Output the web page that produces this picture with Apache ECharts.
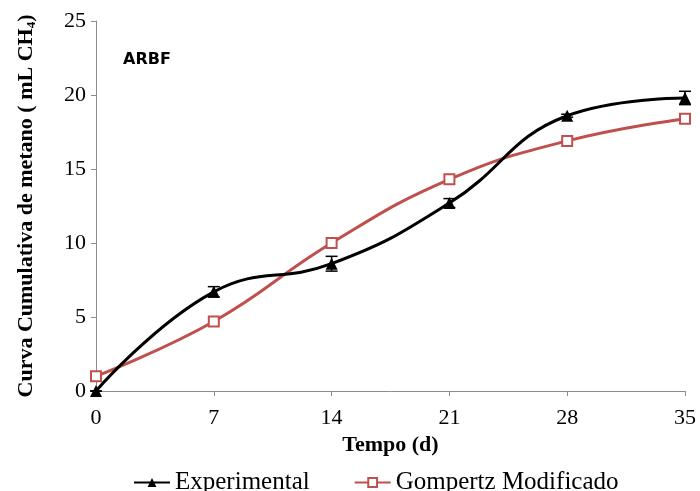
<!DOCTYPE html>
<html>
<head>
<meta charset="utf-8">
<script src="https://cdn.jsdelivr.net/npm/echarts@6/dist/echarts.min.js"></script>
<style>
  html, body { margin: 0; padding: 0; background: #fff; }
  #chart { width: 700px; height: 491px; }
</style>
</head>
<body>
<div id="chart"></div>
<script>
const days = [0, 7, 14, 21, 28, 35]
const experimental = [0, 6.7, 8.6, 12.7, 18.6, 19.8]
const experimentalErr = [0, 0.35, 0.5, 0.3, 0.1, 0.45]
const gompertz = [1.0, 4.7, 10.0, 14.3, 16.9, 18.4]

const serif = '"Liberation Serif", "Times New Roman", serif'
const axisGrey = '#8c8c8c'

const chart = echarts.init(document.getElementById('chart'))

chart.setOption({
  backgroundColor: '#fff',
  animation: false,
  title: {
    text: 'ARBF',
    left: 118,
    top: 47,
    textStyle: { fontFamily: '"DejaVu Sans", sans-serif', fontWeight: 'bold', fontSize: 16, color: '#000' },
  },
  grid: { left: 96, right: 15, top: 21, bottom: 100 },
  legend: {
    bottom: -9,
    left: 128,
    itemWidth: 36,
    itemHeight: 11,
    itemGap: 44,
    textStyle: { fontFamily: serif, fontSize: 25, color: '#000' },
    data: ['Experimental', 'Gompertz Modificado'],
  },
  xAxis: {
    type: 'value',
    min: 0,
    max: 35,
    interval: 7,
    name: 'Tempo (d)',
    nameLocation: 'middle',
    nameGap: 43,
    nameTextStyle: { fontFamily: serif, fontWeight: 'bold', fontSize: 22, color: '#000' },
    axisLine: { lineStyle: { color: axisGrey, width: 1 } },
    axisTick: { show: true, length: 5, lineStyle: { color: axisGrey } },
    axisLabel: { fontFamily: serif, fontSize: 22, color: '#000', margin: 16 },
    splitLine: { show: false },
  },
  yAxis: {
    type: 'value',
    min: 0,
    max: 25,
    interval: 5,
    name: '{a|Curva Cumulativa de metano ( mL CH}{s|4}{a|)}',
    nameLocation: 'middle',
    nameGap: 58,
    nameRotate: 90,
    nameTextStyle: {
      rich: {
        a: { fontFamily: serif, fontWeight: 'bold', fontSize: 22, color: '#000' },
        s: { fontFamily: serif, fontWeight: 'bold', fontSize: 13, color: '#000', padding: [10, 0, 0, 0] },
      },
    },
    axisLine: { show: true, lineStyle: { color: axisGrey, width: 1 } },
    axisTick: { show: true, length: 5, lineStyle: { color: axisGrey } },
    axisLabel: { fontFamily: serif, fontSize: 22, color: '#000', margin: 10 },
    splitLine: { show: false },
  },
  series: [
    {
      name: 'Experimental',
      type: 'line',
      smooth: 0.45,
      data: days.map((d, i) => [d, experimental[i]]),
      symbol: 'triangle',
      symbolSize: 12,
      lineStyle: { color: '#000', width: 3 },
      itemStyle: { color: '#000' },
      z: 3,
    },
    {
      name: 'Experimental error',
      type: 'custom',
      data: days.map((d, i) => [d, experimental[i], experimentalErr[i]]),
      renderItem: (params, api) => {
        const x = api.value(0)
        const y = api.value(1)
        const e = api.value(2)
        const top = api.coord([x, y + e])
        const bot = api.coord([x, y - e])
        const cap = 6
        const style = { stroke: '#000', lineWidth: 1.5 }
        return {
          type: 'group',
          children: [
            { type: 'line', shape: { x1: top[0], y1: top[1], x2: bot[0], y2: bot[1] }, style },
            { type: 'line', shape: { x1: top[0] - cap, y1: top[1], x2: top[0] + cap, y2: top[1] }, style },
            { type: 'line', shape: { x1: bot[0] - cap, y1: bot[1], x2: bot[0] + cap, y2: bot[1] }, style },
          ],
        }
      },
      z: 4,
      silent: true,
    },
    {
      name: 'Gompertz Modificado',
      type: 'line',
      smooth: 0.45,
      data: days.map((d, i) => [d, gompertz[i]]),
      symbol: 'rect',
      symbolSize: 10,
      lineStyle: { color: '#c0504d', width: 3 },
      itemStyle: { color: '#fff', borderColor: '#c0504d', borderWidth: 2 },
      z: 2,
    },
  ],
})
</script>
</body>
</html>
